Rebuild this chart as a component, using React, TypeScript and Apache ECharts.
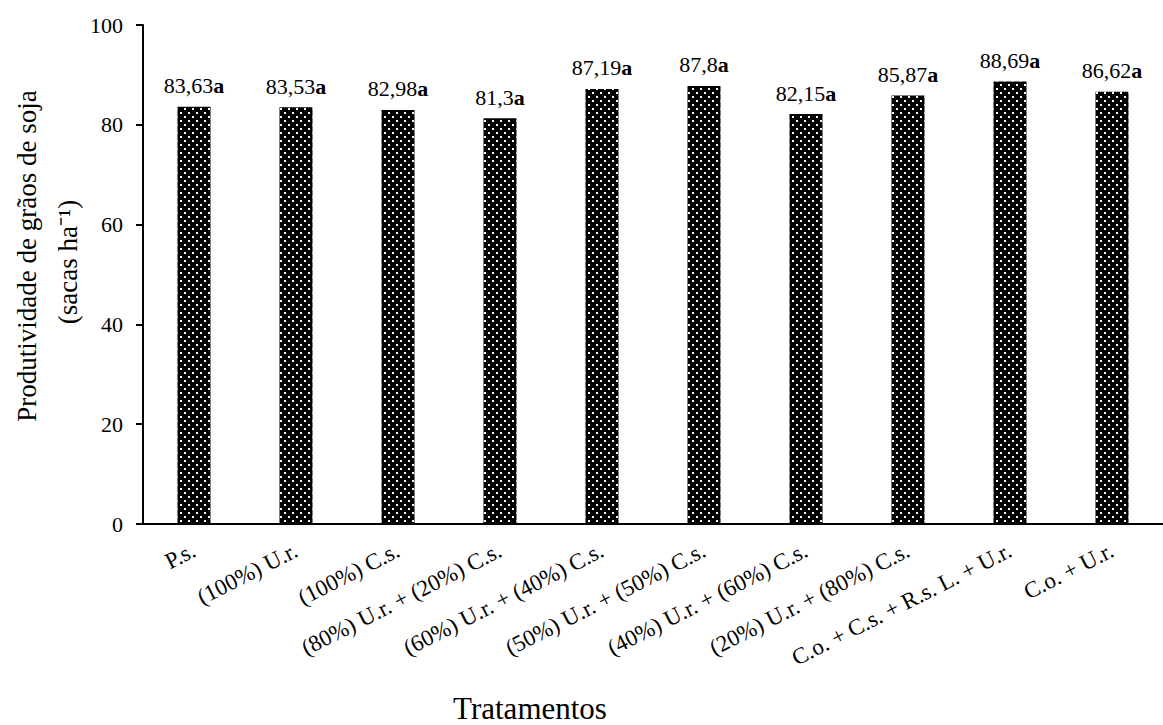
import React, { useEffect, useRef } from "react";
import * as echarts from "echarts";

const categories = [
  "P.s.",
  "(100%) U.r.",
  "(100%) C.s.",
  "(80%) U.r. + (20%) C.s.",
  "(60%) U.r. + (40%) C.s.",
  "(50%) U.r. + (50%) C.s.",
  "(40%) U.r. + (60%) C.s.",
  "(20%) U.r. + (80%) C.s.",
  "C.o. + C.s. + R.s. L. + U.r.",
  "C.o. + U.r.",
];
const values = [83.63, 83.53, 82.98, 81.3, 87.19, 87.8, 82.15, 85.87, 88.69, 86.62];
const letters = ["a", "a", "a", "a", "a", "a", "a", "a", "a", "a"];
const yTicks = { min: 0, max: 100, interval: 20 };

const FONT = "'Liberation Serif', 'Times New Roman', serif";

export default function App() {
  const ref = useRef<HTMLDivElement>(null);
  useEffect(() => {
    if (!ref.current) return;
    const chart = echarts.init(ref.current, null, { renderer: "svg" });
    chart.setOption({
      animation: false,
      backgroundColor: "#fff",
      textStyle: { fontFamily: FONT, color: "#000" },
      grid: { left: 143, top: 25, bottom: 201, width: 1031 },
      xAxis: {
        type: "category",
        data: categories,
        axisLine: { lineStyle: { color: "#000", width: 2 } },
        axisTick: { alignWithLabel: true, length: 7, lineStyle: { color: "#000", width: 2 } },
        axisLabel: {
          rotate: 27,
          interval: 0,
          margin: 25,
          fontSize: 23,
          fontFamily: FONT,
          color: "#000",
        },
      },
      yAxis: {
        type: "value",
        min: yTicks.min,
        max: yTicks.max,
        interval: yTicks.interval,
        splitLine: { show: false },
        axisLine: { show: true, lineStyle: { color: "#000", width: 2 } },
        axisTick: { show: true, length: 7, lineStyle: { color: "#000", width: 2 } },
        axisLabel: { fontSize: 22, margin: 20, fontFamily: FONT, color: "#000" },
      },
      graphic: [
        // y-axis title, two rotated lines
        {
          type: "text",
          x: 27,
          y: 256,
          rotation: Math.PI / 2,
          style: {
            text: "Produtividade de grãos de soja",
            fontFamily: FONT,
            fontSize: 27,
            fill: "#000",
            align: "center",
            verticalAlign: "middle",
          },
        },
        {
          type: "text",
          x: 68,
          y: 262,
          rotation: Math.PI / 2,
          style: {
            text: "(sacas ha⁻¹)",
            fontFamily: FONT,
            fontSize: 27,
            fill: "#000",
            align: "center",
            verticalAlign: "middle",
          },
        },
        {
          type: "text",
          x: 530,
          y: 708,
          style: {
            text: "Tratamentos",
            fontFamily: FONT,
            fontSize: 31,
            fill: "#000",
            align: "center",
            verticalAlign: "middle",
          },
        },
      ],
      series: [
        {
          type: "bar",
          data: values,
          barWidth: 33,
          itemStyle: {
            color: "#000",
            decal: {
              symbol: "rect",
              symbolSize: 1,
              color: "#fff",
              dashArrayX: [
                [2, 6],
                [0, 4, 2, 2],
              ],
              dashArrayY: [2, 2],
              rotation: 0,
            },
          },
          label: {
            show: true,
            position: "top",
            distance: 10,
            formatter: (p: any) =>
              `{n|${String(values[p.dataIndex]).replace(".", ",")}}{b|${letters[p.dataIndex]}}`,
            rich: {
              n: { fontSize: 22, fontFamily: FONT, color: "#000" },
              b: { fontSize: 22, fontFamily: FONT, fontWeight: "bold", color: "#000" },
            },
          },
        },
      ],
    });
    return () => chart.dispose();
  }, []);
  return <div ref={ref} style={{ width: 1163, height: 725, position: "absolute", left: 0, top: 0 }} />;
}
